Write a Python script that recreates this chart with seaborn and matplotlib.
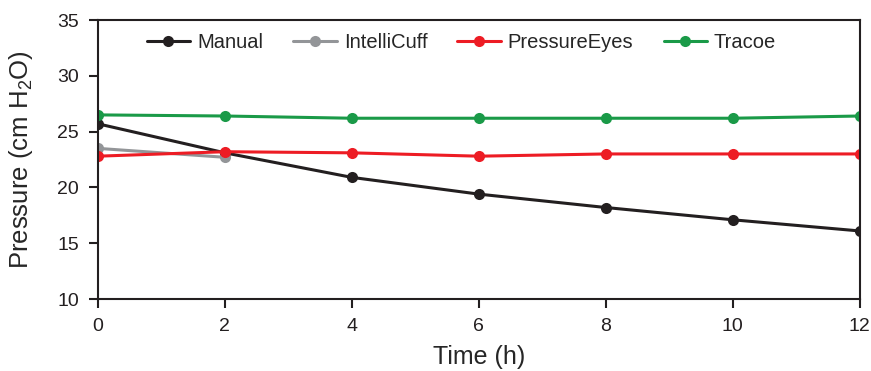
import numpy as np
import pandas as pd
import matplotlib
matplotlib.use('Agg')
import matplotlib.pyplot as plt
import seaborn as sns

# ---------------- 数据 ----------------
time_h = [0, 2, 4, 6, 8, 10, 12]
manual = [25.7, 23.1, 20.9, 19.4, 18.2, 17.1, 16.1]
intellicuff_time = [0, 2]
intellicuff = [23.5, 22.7]
pressure_eyes = [22.8, 23.2, 23.1, 22.8, 23.0, 23.0, 23.0]
tracoe = [26.5, 26.4, 26.2, 26.2, 26.2, 26.2, 26.4]

series_names = ['Manual', 'IntelliCuff', 'PressureEyes', 'Tracoe']
colors = ['#231f20', '#939598', '#ed1c24', '#1a9a48']

frames = [
    pd.DataFrame({'Time': time_h, 'Pressure': manual, 'Device': 'Manual'}),
    pd.DataFrame({'Time': intellicuff_time, 'Pressure': intellicuff, 'Device': 'IntelliCuff'}),
    pd.DataFrame({'Time': time_h, 'Pressure': pressure_eyes, 'Device': 'PressureEyes'}),
    pd.DataFrame({'Time': time_h, 'Pressure': tracoe, 'Device': 'Tracoe'}),
]
df = pd.concat(frames, ignore_index=True)

# ---------------- 绘图 ----------------
sns.set_style('ticks')
plt.rcParams['font.family'] = ['Liberation Sans', 'DejaVu Sans']
plt.rcParams['mathtext.default'] = 'regular'

fig = plt.figure(figsize=(8.71, 3.71), dpi=100)
ax = fig.add_axes([0.1125, 0.194, 0.8745, 0.752])

sns.lineplot(data=df, x='Time', y='Pressure', hue='Device', hue_order=series_names,
             palette=colors, marker='o', markersize=8, markeredgewidth=0,
             linewidth=2.2, ax=ax)

ax.set_xlim(0, 12)
ax.set_ylim(10, 35)
ax.set_xticks(time_h)
ax.set_yticks(range(10, 36, 5))
ax.set_xlabel('Time (h)', fontsize=18)
ax.set_ylabel('Pressure (cm H$_2$O)', fontsize=18.5)
ax.xaxis.set_label_coords(0.5, -0.165)
ax.yaxis.set_label_coords(-0.083, 0.5)
ax.tick_params(axis='both', labelsize=14, direction='out', length=6.5, width=1.5,
               pad=7, color='#231f20', labelcolor='#231f20')
for side in ['left', 'right', 'top', 'bottom']:
    ax.spines[side].set_linewidth(1.5)
    ax.spines[side].set_color('#231f20')
    ax.spines[side].set_visible(True)

ax.legend(loc='upper left', ncol=4, frameon=False, fontsize=14.5,
          bbox_to_anchor=(0.064, 0.955), borderpad=0, borderaxespad=0,
          handlelength=2.15, columnspacing=1.5, handletextpad=0.35)

fig.savefig('out.png', dpi=100)
